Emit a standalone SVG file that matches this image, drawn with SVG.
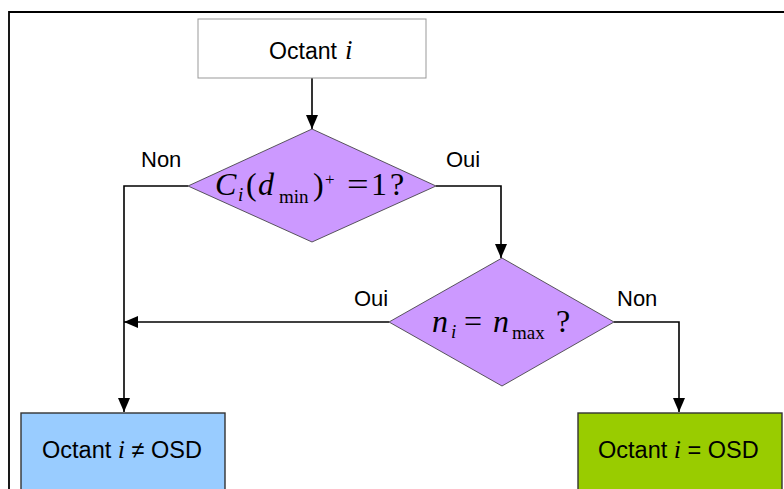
<svg xmlns="http://www.w3.org/2000/svg" width="784" height="489" viewBox="0 0 784 489">
<style>
.lbl{font-family:"Liberation Sans",Arial,sans-serif;font-size:22px;fill:#000}
.box{font-family:"Liberation Sans",Arial,sans-serif;font-size:23.5px;fill:#000}
.m{font-family:"Liberation Serif","Times New Roman",serif;fill:#000}
.it{font-style:italic}
.edge{fill:none;stroke:#000;stroke-width:1.6}
.dia{fill:#cc99ff;stroke:#333;stroke-width:0.8}
</style>
<defs>
<marker id="ah" viewBox="0 0 14 12" refX="14" refY="6" markerWidth="14" markerHeight="12" markerUnits="userSpaceOnUse" orient="auto">
<path d="M0,0 L14,6 L0,12 z" fill="#000"/>
</marker>
</defs>
<rect width="784" height="489" fill="#fff"/>
<path d="M9,489 V12 H784" fill="none" stroke="#000" stroke-width="1.8"/>
<g id="connectors">
<path class="edge" d="M312,78 V129" marker-end="url(#ah)"/>
<path class="edge" d="M188,186 H124 V412" marker-end="url(#ah)"/>
<path class="edge" d="M436,186 H501 V258" marker-end="url(#ah)"/>
<path class="edge" d="M389,322 H124" marker-end="url(#ah)"/>
<path class="edge" d="M614,322 H679 V412" marker-end="url(#ah)"/>
<text class="lbl" x="141" y="167">Non</text>
<text class="lbl" x="446" y="167">Oui</text>
<text class="lbl" x="354" y="306">Oui</text>
<text class="lbl" x="617" y="306">Non</text>
</g>
<g id="start">
<rect x="198" y="19" width="228" height="59" fill="#fff" stroke="#999" stroke-width="1"/>
<text class="box" x="269" y="59" font-size="25" textLength="68" lengthAdjust="spacingAndGlyphs">Octant</text>
<text class="m it" x="345" y="59" font-size="27">i</text>
</g>
<g id="decision1">
<polygon class="dia" points="312,129 436,186 312,242 188,186"/>
<g class="m" font-size="32">
<text class="it" x="215" y="195">C</text>
<text class="it" x="238" y="201" font-size="19">i</text>
<text x="246" y="195">(</text>
<text class="it" x="258" y="195">d</text>
<text x="279" y="203" font-size="19">min</text>
<text x="313" y="195">)</text>
<text x="325" y="185" font-size="17">+</text>
<text transform="translate(347,195) scale(1.2,1)">=</text>
<text x="371" y="195">1</text>
<text x="390" y="195">?</text>
</g>
</g>
<g id="decision2">
<polygon class="dia" points="502,258 614,322 502,386 389,322"/>
<g class="m" font-size="32">
<text class="it" x="432" y="332">n</text>
<text class="it" x="451" y="338" font-size="19">i</text>
<text x="464" y="332">=</text>
<text class="it" x="493" y="332">n</text>
<text x="512" y="339" font-size="19">max</text>
<text x="556" y="332">?</text>
</g>
</g>
<g id="not-osd">
<rect x="21" y="413" width="204" height="80" fill="#99ccff" stroke="#333" stroke-width="1.4"/>
<text class="box" x="42" y="458">Octant <tspan class="m it" font-size="26">i</tspan> ≠ OSD</text>
</g>
<g id="osd">
<rect x="578" y="413" width="204" height="80" fill="#99cc00" stroke="#333" stroke-width="1.4"/>
<text class="box" x="598" y="458">Octant <tspan class="m it" font-size="26">i</tspan> = OSD</text>
</g>
</svg>
